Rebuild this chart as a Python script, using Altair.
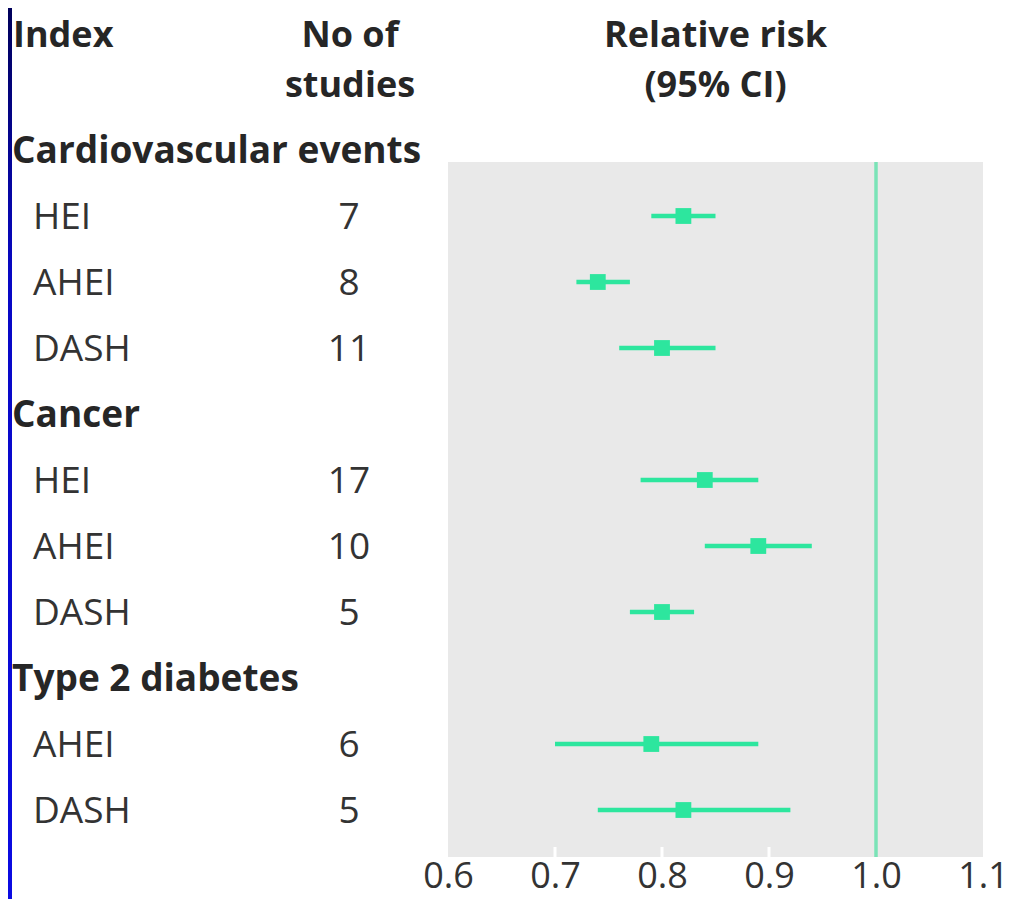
import altair as alt
import pandas as pd

# ---- data ----
groups = ["Cardiovascular events", "Cancer", "Type 2 diabetes"]
group_indices = [["HEI", "AHEI", "DASH"], ["HEI", "AHEI", "DASH"], ["AHEI", "DASH"]]
n_studies = [7, 8, 11, 17, 10, 5, 6, 5]
rr = [0.82, 0.74, 0.80, 0.84, 0.89, 0.80, 0.79, 0.82]
ci_low = [0.79, 0.72, 0.76, 0.78, 0.84, 0.77, 0.70, 0.74]
ci_high = [0.85, 0.77, 0.85, 0.89, 0.94, 0.83, 0.89, 0.92]
tick_labels = [0.6, 0.7, 0.8, 0.9, 1.0, 1.1]
inner_ticks = [0.7, 0.8, 0.9]
null_value = [1.0]

# ---- build tables ----
head_rows, head_names = [], []
item_rows, item_names = [], []
r = 0
for g, idx in zip(groups, group_indices):
    head_rows.append(r)
    head_names.append(g)
    r += 1
    for name in idx:
        item_rows.append(r)
        item_names.append(name)
        r += 1

heads = pd.DataFrame({"row": head_rows, "label": head_names})
items = pd.DataFrame({
    "row": item_rows, "label": item_names, "n": [str(v) for v in n_studies],
    "rr": rr, "lo": ci_low, "hi": ci_high,
})

FONT = "Open Sans"
GREEN = "#2de69e"
W, H = 535, 695
PAD = {"left": 440, "top": 154, "right": 28, "bottom": 42}

xscale = alt.Scale(domain=[0.6, 1.1], nice=False, zero=False)
yscale = alt.Scale(domain=[0.1818, 10.712], reverse=True, nice=False, zero=False)
Y = alt.Y("row:Q", scale=yscale, axis=None)

xaxis = alt.Axis(values=tick_labels, format=".1f", title=None, domain=False, ticks=False,
                 tickSize=0, grid=False, labelFontSize=36, labelPadding=2, labelFlush=False,
                 labelColor="#333333", labelFont=FONT)

dummy = pd.DataFrame({"d": [0]})

strip = alt.Chart(dummy).mark_rect(
    fill={"gradient": "linear", "x1": 0, "x2": 0, "y1": 0, "y2": 1,
          "stops": [{"offset": 0, "color": "#00005a"},
                    {"offset": 0.3, "color": "#0808c4"},
                    {"offset": 1, "color": "#0b0be2"}]}
).encode(x=alt.value(-PAD["left"]), x2=alt.value(-PAD["left"] + 4),
         y=alt.value(-PAD["top"]), y2=alt.value(H + PAD["bottom"]))

ticks = alt.Chart(pd.DataFrame({"t": inner_ticks})).mark_rule(color="white", strokeWidth=3).encode(
    x=alt.X("t:Q", scale=xscale, axis=xaxis), y=alt.value(H - 10), y2=alt.value(H)
)

ref = alt.Chart(pd.DataFrame({"v": null_value})).mark_rule(color="#7ae3b7", strokeWidth=3.5).encode(
    x=alt.X("v:Q", scale=xscale)
)

ci = alt.Chart(items).mark_rule(color=GREEN, strokeWidth=4.5).encode(
    x=alt.X("lo:Q", scale=xscale), x2="hi:Q", y=Y
)

pts = alt.Chart(items).mark_square(color=GREEN, size=250, opacity=1).encode(
    x=alt.X("rr:Q", scale=xscale), y=Y
)

head_txt = alt.Chart(heads).mark_text(align="left", baseline="middle", dy=2, font=FONT,
                                      fontWeight="bold", fontSize=37, color="#262626").encode(
    x=alt.value(-436), y=Y, text="label:N"
)

item_txt = alt.Chart(items).mark_text(align="left", baseline="middle", dy=2, font=FONT,
                                      fontSize=37, color="#333333").encode(
    x=alt.value(-415), y=Y, text="label:N"
)

n_txt = alt.Chart(items).mark_text(align="center", baseline="middle", dy=2, font=FONT,
                                   fontSize=37, color="#333333").encode(
    x=alt.value(-99), y=Y, text="n:N"
)


def header(text, x, y, align):
    return alt.Chart(dummy).mark_text(text=text, align=align, baseline="alphabetic", font=FONT,
                                      fontWeight="bold", fontSize=36, lineHeight=50,
                                      color="#262626").encode(
        x=alt.value(x), y=alt.value(y))


hdrs = [
    header("Index", -435, -115, "left"),
    header(["No of", "studies"], -98, -115, "center"),
    header(["Relative risk", "(95% CI)"], W / 2, -115, "center"),
]

chart = alt.layer(strip, ticks, ref, ci, pts, head_txt, item_txt, n_txt, *hdrs).properties(
    width=W, height=H,
    autosize=alt.AutoSizeParams(type="none"),
    padding=PAD,
    background="white",
).configure_view(fill="#e9e9e9", stroke=None)

chart.save("out.html", embed_options={"renderer": "svg", "actions": False})
